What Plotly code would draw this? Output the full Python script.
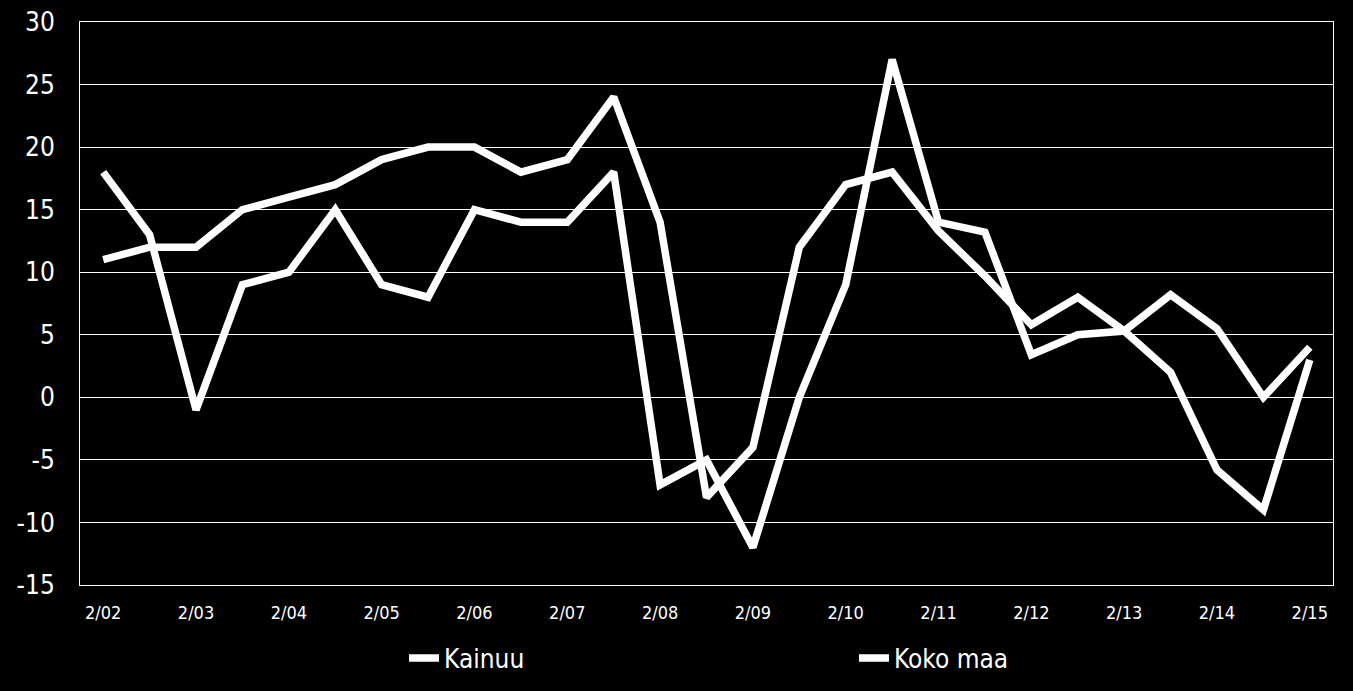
import plotly.graph_objects as go

periods = [
    "2/02", "8/02", "2/03", "8/03", "2/04", "8/04", "2/05", "8/05", "2/06", "8/06",
    "2/07", "8/07", "2/08", "8/08", "2/09", "8/09", "2/10", "8/10", "2/11", "8/11",
    "2/12", "8/12", "2/13", "8/13", "2/14", "8/14", "2/15",
]
kainuu = [18, 13, -1, 9, 10, 15, 9, 8, 15, 14, 14, 18, -7, -5, -12, 0, 9, 27, 14, 13.2,
          3.4, 5, 5.3, 8.2, 5.5, 0, 4]
koko_maa = [11, 12, 12, 15, 16, 17, 19, 20, 20, 18, 19, 24, 14, -8, -4, 12, 17, 18, 13.3, 9.7,
            5.8, 8, 5.3, 2, -5.8, -9, 3]
tick_labels = ["2/02", "2/03", "2/04", "2/05", "2/06", "2/07", "2/08", "2/09", "2/10",
               "2/11", "2/12", "2/13", "2/14", "2/15"]
y_ticks = [-15, -10, -5, 0, 5, 10, 15, 20, 25, 30]
y_tick_labels = ["-15", "-10", "-5", "0", "5", "10", "15", "20", "25", "30"]

FONT = "DejaVu Sans Condensed, Liberation Sans Narrow, Arial Narrow, sans-serif"

fig = go.Figure()
fig.add_trace(go.Scatter(x=periods, y=kainuu, mode="lines", name="Kainuu",
                         line=dict(color="white", width=7.5), legend="legend"))
fig.add_trace(go.Scatter(x=periods, y=koko_maa, mode="lines", name="Koko maa",
                         line=dict(color="white", width=7.5), legend="legend2"))

legend_common = dict(
    orientation="h", yanchor="middle", y=-0.13, xanchor="left",
    font=dict(size=26, color="white", family=FONT),
    bgcolor="rgba(0,0,0,0)", borderwidth=0,
)

fig.update_layout(
    width=1353, height=691,
    paper_bgcolor="black", plot_bgcolor="black",
    margin=dict(l=80, r=20, t=22, b=106, autoexpand=False),
    font=dict(family=FONT, color="white"),
    showlegend=True,
    legend=dict(x=0.2586, **legend_common),
    legend2=dict(x=0.6177, **legend_common),
    xaxis=dict(
        type="category", categoryorder="array", categoryarray=periods,
        range=[-0.5, len(periods) - 0.5],
        tickmode="array", tickvals=periods[::2], ticktext=tick_labels,
        tickfont=dict(size=18, color="white", family=FONT),
        showgrid=False, showline=True, linecolor="white", linewidth=1, mirror=True,
        ticks="", zeroline=False, ticklabelstandoff=11, automargin=False,
    ),
    yaxis=dict(
        range=[-15, 30], tickmode="array", tickvals=y_ticks, ticktext=y_tick_labels,
        tickfont=dict(size=26, color="white", family=FONT),
        showgrid=True, gridcolor="white", gridwidth=1,
        showline=True, linecolor="white", linewidth=1, mirror=True,
        zeroline=False, ticks="", ticklabelstandoff=19, ticklabeloverflow="allow",
        automargin=False,
    ),
)

fig.write_html(
    "out.html",
    config={"displayModeBar": False},
    post_script="document.body.style.margin='0';document.body.style.background='black';"
                "document.body.style.overflow='hidden';",
)
